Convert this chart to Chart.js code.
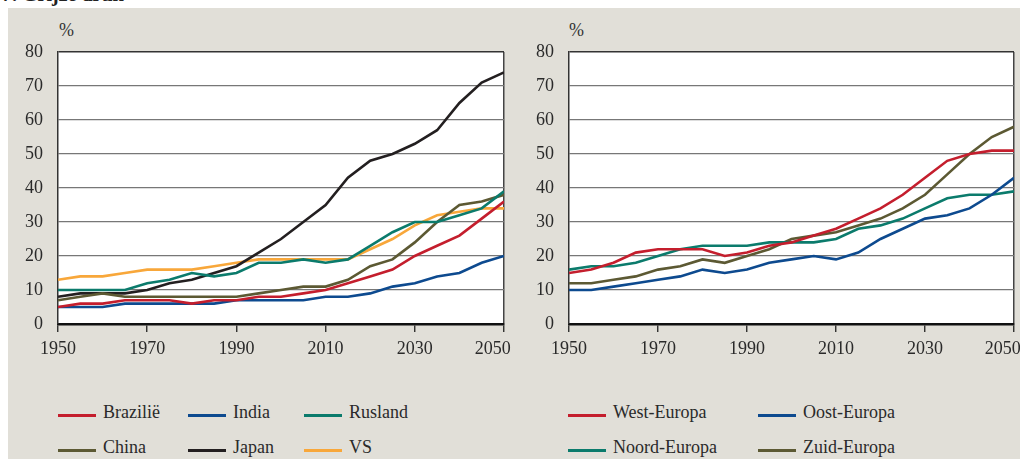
<!DOCTYPE html>
<html>
<head>
<meta charset="utf-8">
<script src="https://cdn.jsdelivr.net/npm/chart.js@4.4.1/dist/chart.umd.min.js"></script>
<style>
  body { margin: 0; width: 1020px; height: 459px; background: #fff; overflow: hidden; position: relative; font-family: "Liberation Serif", serif; }
  #panel { position: absolute; left: 8px; top: 8px; width: 1012px; height: 451px; background: #e1dfd8; }
  #title { position: absolute; left: 2px; top: -16px; font-size: 20px; line-height: 20px; font-weight: bold; color: #222; }
  .cv { position: absolute; top: 0; height: 380px; }
  .pct { position: absolute; top: 20px; font-size: 18px; color: #333; }
  .leg { position: absolute; font-size: 18px; color: #2a2a2a; white-space: nowrap; }
  .leg span { position: absolute; left: 0; width: 38px; height: 3px; }
  .leg b { font-weight: normal; position: absolute; left: 45px; top: -12px; }
</style>
</head>
<body>
<div id="panel"></div>
<div id="title">7. Grijze druk</div>
<div class="pct" style="left:59px">%</div>
<div class="pct" style="left:569px">%</div>
<canvas id="left" class="cv" style="left:0;width:520px" width="520" height="380"></canvas>
<canvas id="right" class="cv" style="left:510px;width:510px" width="510" height="380"></canvas>
<div id="legends"></div>
<script>
document.addEventListener("DOMContentLoaded", function () {
    let years = [1950, 1955, 1960, 1965, 1970, 1975, 1980, 1985, 1990, 1995, 2000,
                 2005, 2010, 2015, 2020, 2025, 2030, 2035, 2040, 2045, 2050];

    // linker grafiek
    let brazilie = [5, 6, 6, 7, 7, 7, 6, 7, 7, 8, 8, 9, 10, 12, 14, 16, 20, 23, 26, 31, 36];
    let india    = [5, 5, 5, 6, 6, 6, 6, 6, 7, 7, 7, 7, 8, 8, 9, 11, 12, 14, 15, 18, 20];
    let rusland  = [10, 10, 10, 10, 12, 13, 15, 14, 15, 18, 18, 19, 18, 19, 23, 27, 30, 30, 32, 34, 39];
    let china    = [7, 8, 9, 8, 8, 8, 8, 8, 8, 9, 10, 11, 11, 13, 17, 19, 24, 30, 35, 36, 38];
    let japan    = [8, 9, 9, 9, 10, 12, 13, 15, 17, 21, 25, 30, 35, 43, 48, 50, 53, 57, 65, 71, 74];
    let vs       = [13, 14, 14, 15, 16, 16, 16, 17, 18, 19, 19, 19, 19, 19, 22, 25, 29, 32, 33, 34, 34];

    // rechter grafiek
    let westEuropa  = [15, 16, 18, 21, 22, 22, 22, 20, 21, 23, 24, 26, 28, 31, 34, 38, 43, 48, 50, 51, 51];
    let oostEuropa  = [10, 10, 11, 12, 13, 14, 16, 15, 16, 18, 19, 20, 19, 21, 25, 28, 31, 32, 34, 38, 43];
    let noordEuropa = [16, 17, 17, 18, 20, 22, 23, 23, 23, 24, 24, 24, 25, 28, 29, 31, 34, 37, 38, 38, 39];
    let zuidEuropa  = [12, 12, 13, 14, 16, 17, 19, 18, 20, 22, 25, 26, 27, 29, 31, 34, 38, 44, 50, 55, 58];

    let yTicks = [0, 10, 20, 30, 40, 50, 60, 70, 80];
    let xTicks = [1950, 1970, 1990, 2010, 2030, 2050];

    let red = "#c41e2d", blue = "#0d4a8f", teal = "#0b7b6c", olive = "#5c5933", black = "#231f20", orange = "#f8a73a";

    let leftSeries = [
        { label: "Brazilië", data: brazilie, color: red },
        { label: "India", data: india, color: blue },
        { label: "Rusland", data: rusland, color: teal },
        { label: "China", data: china, color: olive },
        { label: "Japan", data: japan, color: black },
        { label: "VS", data: vs, color: orange }
    ];
    let rightSeries = [
        { label: "West-Europa", data: westEuropa, color: red },
        { label: "Oost-Europa", data: oostEuropa, color: blue },
        { label: "Noord-Europa", data: noordEuropa, color: teal },
        { label: "Zuid-Europa", data: zuidEuropa, color: olive }
    ];

    let whiteArea = {
        id: "whiteArea",
        beforeDraw: function (chart) {
            let a = chart.chartArea, c = chart.ctx;
            c.save();
            c.fillStyle = "#ffffff";
            c.fillRect(a.left, a.top, a.right - a.left, a.bottom - a.top);
            c.restore();
        }
    };

    function makeChart(id, series, yWidth, rightPad) {
        let ctx = document.getElementById(id).getContext("2d");
        return new Chart(ctx, {
            type: "line",
            data: {
                datasets: series.map(function (s) {
                    return {
                        label: s.label,
                        data: years.map(function (y, i) { return { x: y, y: s.data[i] }; }),
                        borderColor: s.color,
                        borderWidth: 2.6,
                        pointRadius: 0,
                        tension: 0,
                        fill: false
                    };
                })
            },
            options: {
                responsive: false,
                animation: false,
                layout: { padding: { top: 52, right: rightPad, bottom: 0, left: 0 } },
                plugins: { legend: { display: false }, tooltip: { enabled: false } },
                scales: {
                    x: {
                        type: "linear",
                        min: 1950,
                        max: 2050,
                        afterBuildTicks: function (scale) { scale.ticks = xTicks.map(function (v) { return { value: v }; }); },
                        afterFit: function (scale) {
                            scale.height = 56;
                            scale.paddingLeft = 0;
                            scale.paddingRight = 0;
                        },
                        ticks: {
                            // laatste label schuift naar binnen, zoals in het origineel
                            callback: function (v) { return v === 2050 ? String(v) + "\u2002\u2002 " : String(v); },
                            color: "#2a2a2a",
                            font: { family: "Liberation Serif", size: 18 },
                            padding: 6,
                            maxRotation: 0
                        },
                        grid: {
                            color: function (c) { return c.tick && c.tick.value === 2050 ? "#444" : "rgba(0,0,0,0)"; },
                            lineWidth: 1.5,
                            tickColor: "#222",
                            tickLength: 8,
                            tickWidth: 1.3
                        },
                        border: { display: true, color: "#111", width: 2.5 }
                    },
                    y: {
                        type: "linear",
                        min: 0,
                        max: 80,
                        afterBuildTicks: function (scale) { scale.ticks = yTicks.map(function (v) { return { value: v }; }); },
                        afterFit: function (scale) {
                            scale.width = yWidth;
                            scale.paddingTop = 0;
                            scale.paddingBottom = 0;
                        },
                        ticks: {
                            color: "#2a2a2a",
                            font: { family: "Liberation Serif", size: 18 },
                            padding: 15
                        },
                        grid: {
                            drawTicks: false,
                            color: function (c) {
                                if (c.tick.value === 0) return "rgba(0,0,0,0)";
                                if (c.tick.value === 80) return "#333";
                                return "#777";
                            },
                            lineWidth: function (c) { return c.tick.value === 80 ? 1.5 : 1.2; }
                        },
                        border: { display: true, color: "#333", width: 1.5 }
                    }
                }
            },
            plugins: [whiteArea]
        });
    }

    makeChart("left", leftSeries, 58, 16);
    makeChart("right", rightSeries, 59, 6);

    // legenda
    let legendPos = [
        { s: leftSeries, xs: [58, 188, 304] },
        { s: rightSeries, xs: [568, 758] }
    ];
    let rowsY = [415, 450];
    let holder = document.getElementById("legends");
    legendPos.forEach(function (g) {
        g.s.forEach(function (s, i) {
            let col = i % g.xs.length, row = Math.floor(i / g.xs.length);
            let d = document.createElement("div");
            d.className = "leg";
            d.style.left = g.xs[col] + "px";
            d.style.top = (rowsY[row] - 1) + "px";
            d.innerHTML = '<span style="background:' + s.color + '"></span><b>' + s.label + '</b>';
            holder.appendChild(d);
        });
    });
});
</script>
</body>
</html>
